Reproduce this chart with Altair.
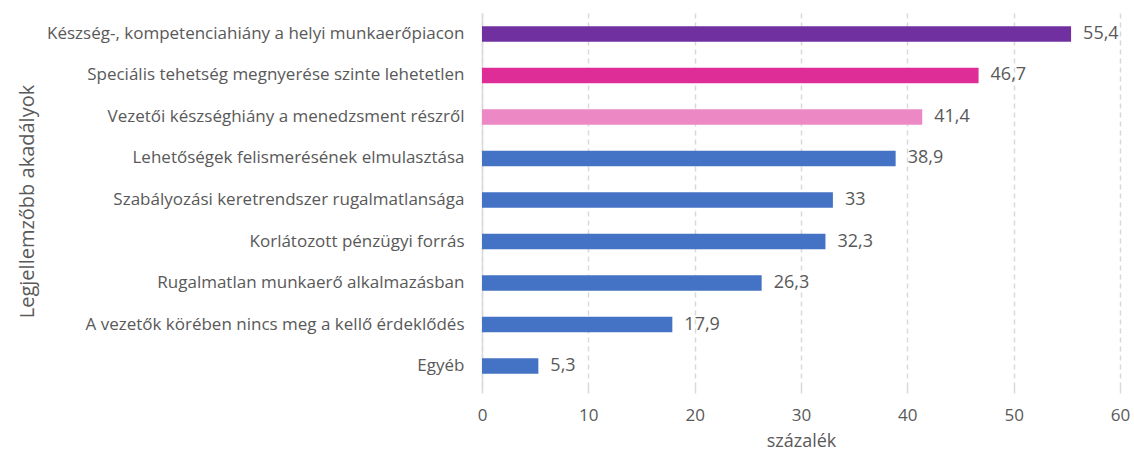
import altair as alt
import pandas as pd

categories = [
    "Készség-, kompetenciahiány a helyi munkaerőpiacon",
    "Speciális tehetség megnyerése szinte lehetetlen",
    "Vezetői készséghiány a menedzsment részről",
    "Lehetőségek felismerésének elmulasztása",
    "Szabályozási keretrendszer rugalmatlansága",
    "Korlátozott pénzügyi forrás",
    "Rugalmatlan munkaerő alkalmazásban",
    "A vezetők körében nincs meg a kellő érdeklődés",
    "Egyéb",
]
values = [55.4, 46.7, 41.4, 38.9, 33, 32.3, 26.3, 17.9, 5.3]
colors = ["#7030A0", "#DE2D96", "#EC88C4", "#4472C4", "#4472C4",
          "#4472C4", "#4472C4", "#4472C4", "#4472C4"]

df = pd.DataFrame({"cat": categories, "val": values, "color": colors})
df["label"] = df["val"].map(lambda v: (f"{v:g}").replace(".", ","))

FONT = "Open Sans"
GRAY = "#595959"
W, H = 638, 374
LEFT, TOP = 482, 13

base = alt.Chart(df).encode(
    y=alt.Y("cat:N", sort=categories,
            scale=alt.Scale(paddingInner=0.63, paddingOuter=0.32),
            axis=alt.Axis(title="Legjellemzőbb akadályok", ticks=False,
                          domain=True, domainColor="#d9d9d9", domainWidth=1.5,
                          labelFont=FONT, labelFontSize=17, labelColor=GRAY,
                          labelPadding=18, labelLimit=600,
                          titleFont=FONT, titleFontSize=20, titleColor=GRAY,
                          titleFontWeight="normal", titleAngle=270,
                          titleX=27 - LEFT, titleY=H / 2 + 1,
                          titleAlign="center", titleBaseline="middle", grid=False)),
)

bars = base.mark_bar().encode(
    x=alt.X("val:Q", scale=alt.Scale(domain=[0, 60], nice=False),
            axis=alt.Axis(title="százalék", values=[0, 10, 20, 30, 40, 50, 60],
                          grid=True, gridDash=[5, 4], gridColor="#d9d9d9", gridWidth=1.5,
                          domain=False, ticks=True, tickColor="#d9d9d9", tickSize=6,
                          tickWidth=1.5, labelFlush=False, labelOverlap=False,
                          labelFont=FONT, labelFontSize=17, labelColor=GRAY,
                          labelPadding=14,
                          titleFont=FONT, titleFontSize=18, titleColor=GRAY,
                          titleFontWeight="normal", titlePadding=9)),
    color=alt.Color("color:N", scale=None),
)

text = base.mark_text(align="left", dx=12, font=FONT, fontSize=18, color=GRAY).encode(
    x="val:Q", text="label:N"
)

chart = (bars + text).properties(
    width=W, height=H,
    autosize=alt.AutoSizeParams(type="none"),
    padding={"left": LEFT, "top": TOP, "right": 1134 - LEFT - W, "bottom": 457 - TOP - H},
).configure_view(stroke=None)

chart.save("out.html", embed_options={"renderer": "svg", "actions": False})
